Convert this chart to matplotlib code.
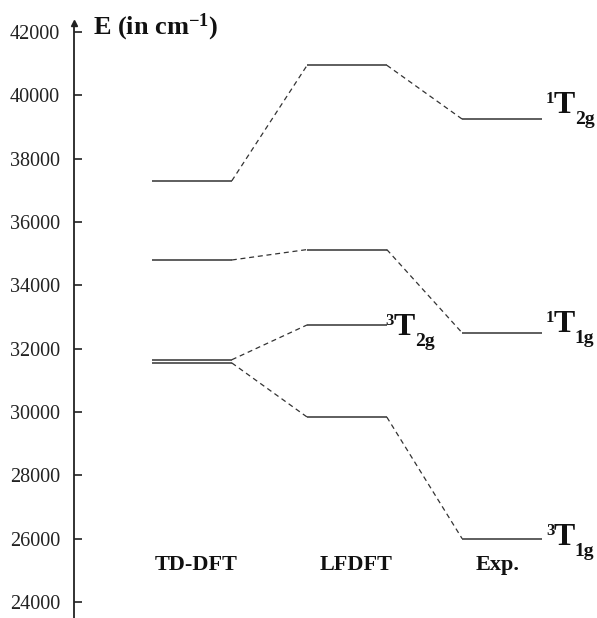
import numpy as np
import matplotlib
matplotlib.use("Agg")
import matplotlib.pyplot as plt

plt.rcParams['font.family'] = ['Liberation Serif', 'DejaVu Serif']
plt.rcParams['mathtext.fontset'] = 'custom'
plt.rcParams['mathtext.rm'] = 'Liberation Serif:bold'
plt.rcParams['mathtext.it'] = 'Liberation Serif:bold'
plt.rcParams['mathtext.bf'] = 'Liberation Serif:bold'

# metodi di calcolo (colonne)
metodi = ["TD-DFT", "LFDFT", "Exp."]

# stati: (molteplicita', simmetria) e energie dei livelli in cm-1 (None = livello assente)
molt = ["1", "1", "3", "3"]
simm = ["2g", "1g", "2g", "1g"]
td_dft = [37300, 34800, 31650, 31550]
lfdft = [40950, 35130, 32750, 29840]
exp = [39250, 32500, None, 26000]

yticks = np.arange(24000, 42001, 2000)

fig = plt.figure(figsize=(5.97, 6.18), dpi=100)
ax = fig.add_axes([74 / 597, 0, 523 / 597, 595 / 618])
ax.set_xlim(-0.761, 2.613)
ax.set_ylim(23495, 42284)

hw = 0.257  # mezza larghezza di un livello
col = "#333333"
pt = 0.72   # pixel -> punti a 100 dpi

# livelli orizzontali e linee tratteggiate di collegamento
for k in range(len(molt)):
    vals = [td_dft[k], lfdft[k], exp[k]]
    for i, v in enumerate(vals):
        if v is None:
            continue
        ax.plot([i - hw, i + hw], [v, v], color=col, lw=1.1, solid_capstyle='butt')
        if i > 0 and vals[i - 1] is not None:
            ax.plot([i - 1 + hw, i - hw], [vals[i - 1], v], color=col, lw=0.9,
                    ls=(0, (4, 3)))


def etichetta(i, v, sup, sub, dx, dy):
    # simbolo del termine: apice + T grande + pedice, accanto al livello
    kw = dict(textcoords='offset points', ha='left', va='baseline',
              fontweight='bold', color='#111111')
    ax.annotate(sup, (i + hw, v), xytext=((dx - 1) * pt, (dy + 10) * pt), fontsize=12, **kw)
    ax.annotate("T", (i + hw, v), xytext=((dx + 7) * pt, dy * pt), fontsize=23, **kw)
    ax.annotate(sub, (i + hw, v), xytext=((dx + 28) * pt, (dy - 11) * pt), fontsize=14, **kw)


# colonna in cui compare l'etichetta di ogni stato e suo spostamento (px)
col_etich = [2, 2, 1, 2]
spost = [(5, 6), (5, 1), (0, -10), (5, -6)]
for k in range(len(molt)):
    i = col_etich[k]
    v = [td_dft[k], lfdft[k], exp[k]][i]
    etichetta(i, v, molt[k], simm[k], *spost[k])

# nomi dei metodi
dx_nomi = [0.03, 0.06, -0.03]
for i, m in enumerate(metodi):
    ax.text(i + dx_nomi[i], (618 - 565) / 595, m, transform=ax.get_xaxis_transform(),
            ha='center', va='center', fontsize=16, fontweight='bold', color='#111111')

# asse verticale con freccia
for s in ['top', 'right', 'bottom']:
    ax.spines[s].set_visible(False)
ax.spines['left'].set_linewidth(1.3)
ax.spines['left'].set_color('#222222')
ax.plot([0], [1], marker='^', ms=5, color='#222222', transform=ax.transAxes, clip_on=False)
ax.set_xticks([])
ax.set_yticks(yticks)
ax.tick_params(axis='y', direction='in', length=6, width=1.2, pad=10, labelsize=14.5,
               colors='#222222')

fig.text(93 / 597, 1 - 27 / 618, r"E (in cm$^{-1}$)", fontsize=19, fontweight='bold',
         ha='left', va='center', color='#111111')

fig.savefig("out.png", dpi=100)
